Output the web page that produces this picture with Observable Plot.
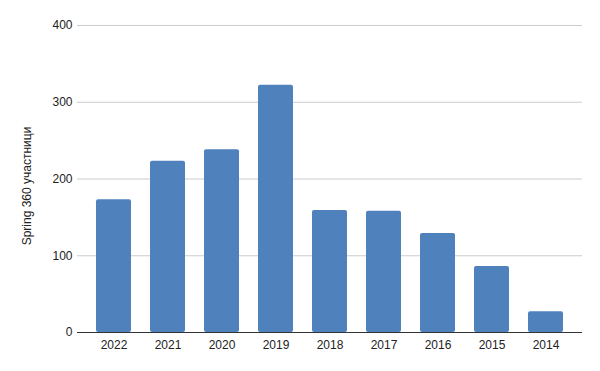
<!DOCTYPE html>
<html>
<head>
<meta charset="utf-8">
<script src="https://cdn.jsdelivr.net/npm/d3@7"></script>
<script src="https://cdn.jsdelivr.net/npm/@observablehq/plot@0.6"></script>
<style>
  html, body { margin: 0; padding: 0; background: #fff; }
  #chart svg { display: block; }
</style>
</head>
<body>
<div id="chart"></div>
<script>
const years = ["2022", "2021", "2020", "2019", "2018", "2017", "2016", "2015", "2014"];
const participants = [173, 223, 238, 322, 159, 158, 129, 86, 27];
const yTicks = [0, 100, 200, 300, 400];
const yLabel = "Spring 360 участници";

const data = years.map((y, i) => ({year: y, value: participants[i]}));

const chart = Plot.plot({
  width: 600,
  height: 371,
  marginLeft: 77,
  marginRight: 18,
  marginTop: 25,
  marginBottom: 39,
  style: {fontFamily: "'Liberation Sans', Arial, sans-serif", fontSize: "12px", color: "#222", background: "#fff"},
  x: {domain: years, padding: 0.35, label: null, tickSize: 0, tickPadding: 8},
  y: {domain: [0, 400], ticks: yTicks, label: null, tickSize: 0, tickPadding: 5, grid: false},
  marks: [
    Plot.ruleY(yTicks.filter(d => d > 0), {stroke: "#cccccc", strokeWidth: 1}),
    Plot.barY(data, {x: "year", y: "value", fill: "#4f81bd", rx: 2}),
    Plot.ruleY([0], {stroke: "#333333", strokeWidth: 1})
  ]
});

const svg = d3.select(chart);
svg.append("text")
  .attr("transform", "translate(31,186) rotate(-90)")
  .attr("text-anchor", "middle")
  .attr("fill", "#222")
  .attr("font-size", 12)
  .text(yLabel);

document.getElementById("chart").append(chart);
</script>
</body>
</html>
